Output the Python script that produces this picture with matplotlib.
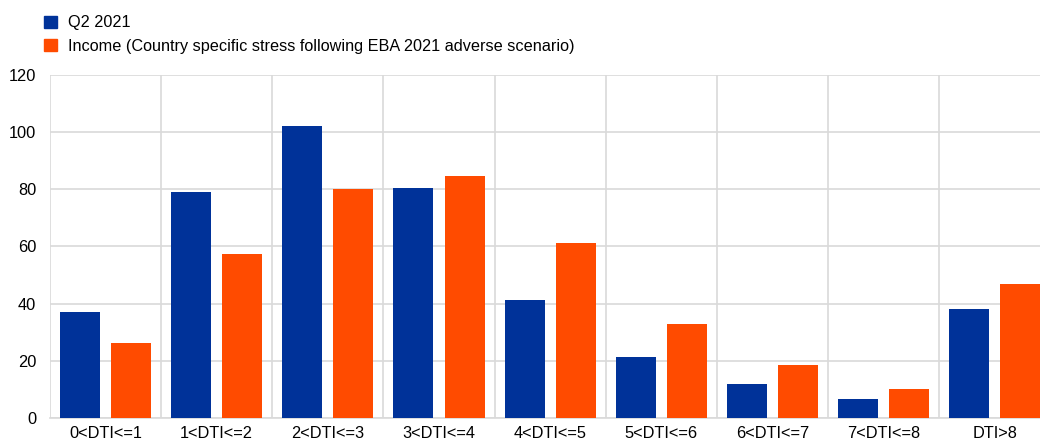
import numpy as np
import matplotlib.pyplot as plt
from matplotlib.patches import Patch

plt.rcParams['font.family'] = ['Liberation Sans', 'DejaVu Sans']

# Data
categories = ['0<DTI<=1', '1<DTI<=2', '2<DTI<=3', '3<DTI<=4', '4<DTI<=5',
              '5<DTI<=6', '6<DTI<=7', '7<DTI<=8', 'DTI>8']
q2_2021 = [37.2, 79.2, 102.0, 80.5, 41.2, 21.3, 12.0, 6.5, 38.0]
income_stress = [26.3, 57.3, 80.1, 84.5, 61.2, 32.8, 18.5, 10.2, 47.0]
series_names = ['Q2 2021', 'Income (Country specific stress following EBA 2021 adverse scenario)']

blue = '#003299'
orange = '#ff4b00'
grid_col = '#d9d9d9'

fig = plt.figure(figsize=(10.4, 4.44), dpi=100)
ax = fig.add_axes([0.048, 0.0586, 0.962, 0.7725])

x = np.arange(len(categories))
w = 0.36
ax.bar(x - 0.23, q2_2021, width=w, color=blue, zorder=3)
ax.bar(x + 0.23, income_stress, width=w, color=orange, zorder=3)

ax.set_xlim(-0.5, len(categories) - 0.5)
ax.set_ylim(0, 120)
ax.set_yticks(np.arange(0, 121, 20))
ax.set_xticks(x)
ax.set_xticklabels(categories)
ax.set_xticks(np.arange(-0.5, len(categories), 1), minor=True)

ax.grid(axis='y', which='major', color=grid_col, linewidth=1.2, zorder=0)
ax.grid(axis='x', which='minor', color=grid_col, linewidth=1.2, zorder=0)
ax.tick_params(axis='both', which='both', length=0, labelsize=11.8, colors='black')
ax.tick_params(axis='x', pad=6)
ax.tick_params(axis='y', pad=10)

for s in ['top', 'right', 'left']:
    ax.spines[s].set_visible(False)
ax.spines['bottom'].set_color(grid_col)
ax.spines['bottom'].set_linewidth(1.2)

handles = [Patch(color=blue), Patch(color=orange)]
fig.legend(handles, series_names, loc='upper left', bbox_to_anchor=(0.0365, 0.98),
           frameon=False, fontsize=11.7, handlelength=0.75, handleheight=0.75,
           handletextpad=0.7, labelspacing=0.5, borderaxespad=0)

fig.savefig('out.png', dpi=100)
